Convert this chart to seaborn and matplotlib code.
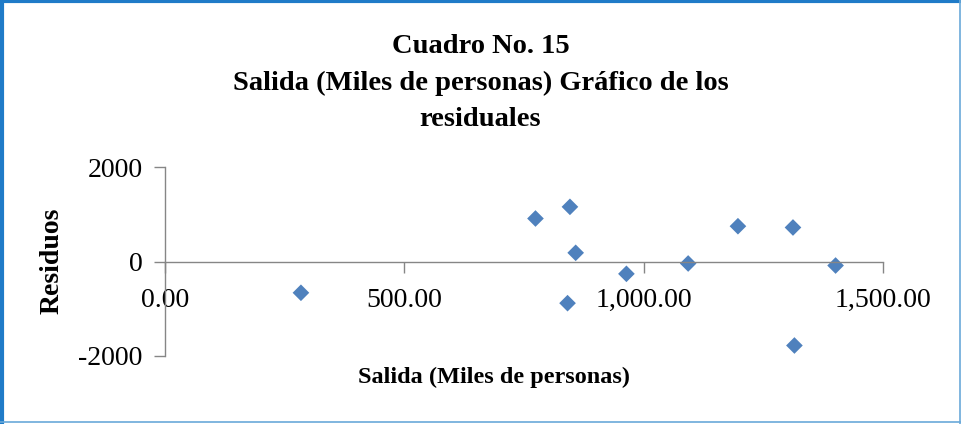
import pandas as pd
import matplotlib.pyplot as plt
from matplotlib.lines import Line2D
import seaborn as sns

salida = [284, 774, 846, 858, 841, 964, 1093, 1197, 1312, 1315, 1401]
residuos = [-662, 910, 1157, 184, -882, -261, -42, 747, 720, -1778, -85]

x_ticks = [0, 500, 1000, 1500]
y_ticks = [-2000, 0, 2000]

data = pd.DataFrame({'Salida': salida, 'Residuos': residuos})

sns.set_style('white')
plt.rcParams['font.family'] = ['Liberation Serif', 'DejaVu Serif']
plt.rcParams['text.color'] = 'black'

fig = plt.figure(figsize=(9.61, 4.24), dpi=100)
ax = fig.add_axes([0.1717, 0.1604, 0.7471, 0.4457])

sns.scatterplot(data=data, x='Salida', y='Residuos', marker='D', s=72,
                color='#4F81BD', edgecolor='none', ax=ax, legend=False)

ax.set_xlim(0, 1500)
ax.set_ylim(-2000, 2000)
ax.set_xticks(x_ticks)
ax.set_xticklabels([f'{v:,.2f}' for v in x_ticks])
ax.set_yticks(y_ticks)
ax.set_yticklabels([str(v) for v in y_ticks])

# ejes al estilo Excel: eje x cruzando en y=0
gris = '#868686'
ax.spines['bottom'].set_position(('data', 0))
for lado in ['top', 'right']:
    ax.spines[lado].set_visible(False)
for lado in ['bottom', 'left']:
    ax.spines[lado].set_color(gris)
    ax.spines[lado].set_linewidth(1)
ax.tick_params(axis='x', direction='out', length=8, width=1, color=gris,
               pad=11, labelsize=20, labelcolor='black', bottom=True)
ax.tick_params(axis='y', direction='out', length=8, width=1, color=gris,
               pad=8, labelsize=20, labelcolor='black', left=True)

ax.set_xlabel('')
ax.set_ylabel('')
fig.text(0.514, 0.11, 'Salida (Miles de personas)', ha='center', va='center',
         fontsize=17.5, fontweight='bold')
fig.text(0.054, 0.384, 'Residuos', ha='center', va='center', rotation=90,
         fontsize=20, fontweight='bold')

fig.text(0.5, 0.92, 'Cuadro No. 15\nSalida (Miles de personas) Gráfico de los\nresiduales',
         ha='center', va='top', fontsize=20.5, fontweight='bold', linespacing=1.6)

# borde del cuadro
fig.add_artist(Line2D([0.002, 0.002], [0, 1], color='#1F7BC8', lw=3, transform=fig.transFigure))
fig.add_artist(Line2D([0, 1], [0.998, 0.998], color='#1F7BC8', lw=3, transform=fig.transFigure))
fig.add_artist(Line2D([0.999, 0.999], [0, 1], color='#6AA9D9', lw=1.2, transform=fig.transFigure))
fig.add_artist(Line2D([0, 1], [0.004, 0.004], color='#6AA9D9', lw=1.2, transform=fig.transFigure))

fig.savefig('out.png', dpi=100)
